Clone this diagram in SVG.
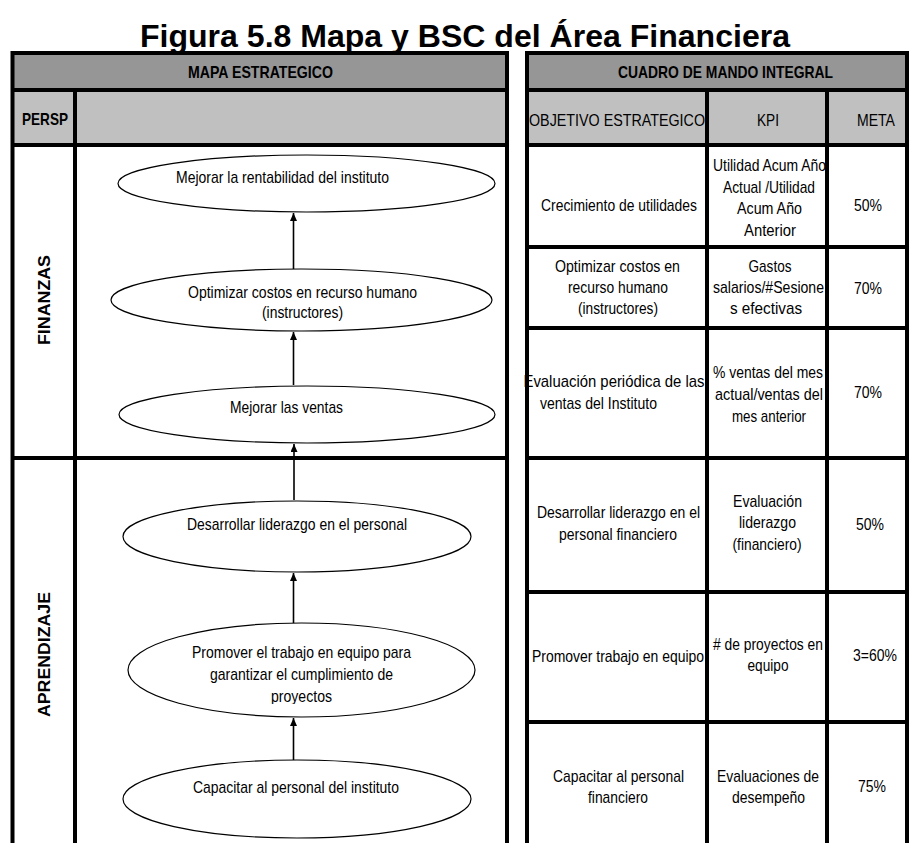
<svg xmlns="http://www.w3.org/2000/svg" width="909" height="843" viewBox="0 0 909 843">
  <style>
    .t { font-family: "Liberation Sans Narrow", "Liberation Sans", Arial, sans-serif; font-size: 17px; fill: #000; text-anchor: middle; }
    .hb { font-family: "Liberation Sans Narrow", "Liberation Sans", Arial, sans-serif; font-size: 17px; font-weight: bold; fill: #000; text-anchor: middle; }
    .side { font-family: "Liberation Sans", Arial, sans-serif; font-size: 17px; font-weight: bold; fill: #000; text-anchor: middle; }
    .title { font-family: "Liberation Sans", Arial, sans-serif; font-size: 32px; font-weight: bold; fill: #000; text-anchor: middle; }
    .grid { stroke: #000; stroke-width: 4; fill: none; }
    .node { fill: #fff; stroke: #000; stroke-width: 1.2; }
    .conn { stroke: #000; stroke-width: 1.6; fill: none; marker-end: url(#arrow); }
  </style>
  <defs>
    <marker id="arrow" markerUnits="userSpaceOnUse" markerWidth="8" markerHeight="8" refX="8" refY="3.5" orient="auto">
      <path d="M0,0 L8,3.5 L0,7 z" fill="#000"/>
    </marker>
    <clipPath id="clipProy">
      <rect x="100" y="600" width="400" height="104"/>
    </clipPath>
  </defs>

  <rect width="909" height="843" fill="#fff"/>

  <!-- Title -->
  <text class="title" x="465" y="47" textLength="650" lengthAdjust="spacingAndGlyphs">Figura 5.8 Mapa y BSC del Área Financiera</text>

  <!-- Header fills -->
  <g id="headers">
    <rect x="12.5" y="53" width="494.5" height="37" fill="#969696"/>
    <rect x="12.5" y="90" width="494.5" height="55" fill="#c0c0c0"/>
    <rect x="527" y="53" width="380" height="37" fill="#969696"/>
    <rect x="527" y="90" width="380" height="55" fill="#c0c0c0"/>
    <text class="hb" x="260.5" y="78" textLength="145" lengthAdjust="spacingAndGlyphs">MAPA ESTRATEGICO</text>
    <text class="hb" x="45" y="125" textLength="46" lengthAdjust="spacingAndGlyphs">PERSP</text>
    <text class="hb" x="725.5" y="78" textLength="215" lengthAdjust="spacingAndGlyphs">CUADRO DE MANDO INTEGRAL</text>
    <text class="t" x="617" y="126" textLength="176" lengthAdjust="spacingAndGlyphs">OBJETIVO ESTRATEGICO</text>
    <text class="t" x="768" y="126" textLength="22" lengthAdjust="spacingAndGlyphs">KPI</text>
    <text class="t" x="876" y="126" textLength="38" lengthAdjust="spacingAndGlyphs">META</text>
  </g>

  <!-- Perspective labels -->
  <g id="persp-finanzas">
    <text class="side" transform="translate(50,300) rotate(-90)" x="0" y="0" textLength="90" lengthAdjust="spacingAndGlyphs">FINANZAS</text>
  </g>
  <g id="persp-aprendizaje">
    <text class="side" transform="translate(50,654.5) rotate(-90)" x="0" y="0" textLength="125" lengthAdjust="spacingAndGlyphs">APRENDIZAJE</text>
  </g>

  <!-- Strategy map objectives -->
  <g id="obj-rentabilidad">
    <ellipse class="node" cx="306.5" cy="183.5" rx="188.5" ry="28.5"/>
    <text class="t" x="282.5" y="183" textLength="213" lengthAdjust="spacingAndGlyphs">Mejorar la rentabilidad del instituto</text>
  </g>
  <g id="obj-costos">
    <ellipse class="node" cx="301.5" cy="300" rx="190.5" ry="31"/>
    <text class="t" x="302.5" y="298" textLength="229" lengthAdjust="spacingAndGlyphs">Optimizar costos en recurso humano</text>
    <text class="t" x="302.5" y="318" textLength="81" lengthAdjust="spacingAndGlyphs">(instructores)</text>
  </g>
  <g id="obj-ventas">
    <ellipse class="node" cx="307" cy="414.5" rx="188" ry="28.5"/>
    <text class="t" x="286.5" y="413" textLength="113" lengthAdjust="spacingAndGlyphs">Mejorar las ventas</text>
  </g>
  <g id="obj-liderazgo">
    <ellipse class="node" cx="297" cy="536.5" rx="174" ry="35.5"/>
    <text class="t" x="297" y="530" textLength="220" lengthAdjust="spacingAndGlyphs">Desarrollar liderazgo en el personal</text>
  </g>
  <g id="obj-equipo">
    <ellipse class="node" cx="301.5" cy="670" rx="173.5" ry="47"/>
    <text class="t" x="301.5" y="658" textLength="219" lengthAdjust="spacingAndGlyphs">Promover el trabajo en equipo para</text>
    <text class="t" x="301.5" y="680" textLength="183" lengthAdjust="spacingAndGlyphs">garantizar el cumplimiento de</text>
    <text class="t" x="301.5" y="702" textLength="61" lengthAdjust="spacingAndGlyphs" clip-path="url(#clipProy)">proyectos</text>
  </g>
  <g id="obj-capacitar">
    <ellipse class="node" cx="297" cy="799" rx="174" ry="39"/>
    <text class="t" x="296" y="793" textLength="206" lengthAdjust="spacingAndGlyphs">Capacitar al personal del instituto</text>
  </g>

  <!-- Cause-effect connectors -->
  <g id="connectors">
    <line class="conn" x1="293.5" y1="269" x2="293.5" y2="213"/>
    <line class="conn" x1="293.5" y1="385" x2="293.5" y2="332"/>
    <line class="conn" x1="294" y1="500" x2="294" y2="444"/>
    <line class="conn" x1="293.5" y1="623" x2="293.5" y2="573"/>
    <line class="conn" x1="293.5" y1="760" x2="293.5" y2="718"/>
  </g>

  <!-- Balanced scorecard rows -->
  <g id="row-utilidades">
    <text class="t" x="619" y="211" textLength="156" lengthAdjust="spacingAndGlyphs">Crecimiento de utilidades</text>
    <text class="t" x="769.5" y="171" textLength="113" lengthAdjust="spacingAndGlyphs">Utilidad Acum Año</text>
    <text class="t" x="769" y="193" textLength="92" lengthAdjust="spacingAndGlyphs">Actual /Utilidad</text>
    <text class="t" x="769.5" y="214" textLength="65" lengthAdjust="spacingAndGlyphs">Acum Año</text>
    <text class="t" x="770" y="236" textLength="52" lengthAdjust="spacingAndGlyphs">Anterior</text>
    <text class="t" x="868" y="211" textLength="28" lengthAdjust="spacingAndGlyphs">50%</text>
  </g>
  <g id="row-costos">
    <text class="t" x="617.5" y="272" textLength="125" lengthAdjust="spacingAndGlyphs">Optimizar costos en</text>
    <text class="t" x="618" y="293" textLength="100" lengthAdjust="spacingAndGlyphs">recurso humano</text>
    <text class="t" x="618" y="314" textLength="80" lengthAdjust="spacingAndGlyphs">(instructores)</text>
    <text class="t" x="770" y="272" textLength="43" lengthAdjust="spacingAndGlyphs">Gastos</text>
    <text class="t" x="768.5" y="293" textLength="111" lengthAdjust="spacingAndGlyphs">salarios/#Sesione</text>
    <text class="t" x="766" y="314" textLength="72" lengthAdjust="spacingAndGlyphs">s efectivas</text>
    <text class="t" x="868" y="294" textLength="28" lengthAdjust="spacingAndGlyphs">70%</text>
  </g>
  <g id="row-ventas">
    <text class="t" x="614" y="387" textLength="181" lengthAdjust="spacingAndGlyphs">Evaluación periódica de las</text>
    <text class="t" x="598.5" y="409" textLength="117" lengthAdjust="spacingAndGlyphs">ventas del Instituto</text>
    <text class="t" x="768" y="378" textLength="110" lengthAdjust="spacingAndGlyphs">% ventas del mes</text>
    <text class="t" x="769" y="400" textLength="108" lengthAdjust="spacingAndGlyphs">actual/ventas del</text>
    <text class="t" x="769" y="422" textLength="74" lengthAdjust="spacingAndGlyphs">mes anterior</text>
    <text class="t" x="868" y="398" textLength="28" lengthAdjust="spacingAndGlyphs">70%</text>
  </g>
  <g id="row-liderazgo">
    <text class="t" x="618.5" y="518" textLength="163" lengthAdjust="spacingAndGlyphs">Desarrollar liderazgo en el</text>
    <text class="t" x="618" y="540" textLength="118" lengthAdjust="spacingAndGlyphs">personal financiero</text>
    <text class="t" x="767.5" y="507" textLength="69" lengthAdjust="spacingAndGlyphs">Evaluación</text>
    <text class="t" x="767.5" y="528" textLength="57" lengthAdjust="spacingAndGlyphs">liderazgo</text>
    <text class="t" x="767" y="550" textLength="69" lengthAdjust="spacingAndGlyphs">(financiero)</text>
    <text class="t" x="870" y="530" textLength="28" lengthAdjust="spacingAndGlyphs">50%</text>
  </g>
  <g id="row-equipo">
    <text class="t" x="618" y="662" textLength="172" lengthAdjust="spacingAndGlyphs">Promover trabajo en equipo</text>
    <text class="t" x="768" y="650" textLength="110" lengthAdjust="spacingAndGlyphs"># de proyectos en</text>
    <text class="t" x="768" y="671" textLength="41" lengthAdjust="spacingAndGlyphs">equipo</text>
    <text class="t" x="875" y="661" textLength="44" lengthAdjust="spacingAndGlyphs">3=60%</text>
  </g>
  <g id="row-capacitar">
    <text class="t" x="618.5" y="782" textLength="131" lengthAdjust="spacingAndGlyphs">Capacitar al personal</text>
    <text class="t" x="618" y="803" textLength="60" lengthAdjust="spacingAndGlyphs">financiero</text>
    <text class="t" x="768" y="782" textLength="102" lengthAdjust="spacingAndGlyphs">Evaluaciones de</text>
    <text class="t" x="768.5" y="803" textLength="73" lengthAdjust="spacingAndGlyphs">desempeño</text>
    <text class="t" x="872" y="792" textLength="28" lengthAdjust="spacingAndGlyphs">75%</text>
  </g>

  <!-- Table grid lines -->
  <g id="grid">
    <path class="grid" d="M12.5,51 V843 M507,51 V843 M75,90 V843 M10.5,53 H509 M10.5,90 H509 M10.5,145 H509 M10.5,458 H509"/>
    <path class="grid" d="M527,51 V843 M907,51 V843 M707,90 V843 M827,90 V843 M525,53 H909 M525,90 H909 M525,145 H909 M525,247 H909 M525,328 H909 M525,458 H909 M525,592 H909 M525,722 H909"/>
  </g>
</svg>
